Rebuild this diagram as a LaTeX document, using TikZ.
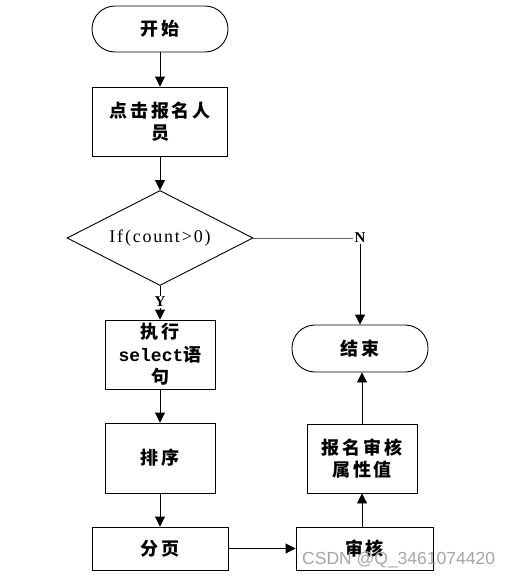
\documentclass[tikz,border=0pt]{standalone}
\usepackage{fontspec}
\newfontfamily\cjk[LetterSpace=15]{Noto Sans CJK SC}
\newfontfamily\lat{Liberation Serif}
\newfontfamily\mono{Liberation Mono}
\newfontfamily\wm{Liberation Sans}
\usetikzlibrary{shapes.geometric,arrows.meta}
\begin{document}
\begin{tikzpicture}[x=1pt,y=-1pt,
  box/.style={draw,line width=0.9pt,inner sep=0pt,align=center,font=\fontsize{18}{22.5}\cjk\bfseries},
  term/.style={box,rounded corners=23pt},
  arr/.style={line width=0.9pt,-{Triangle[length=10pt,width=10pt]}},
  ln/.style={line width=0.9pt},
  lab/.style={inner sep=1pt,font=\fontsize{15}{15}\lat\bfseries}]
\useasboundingbox (0,0) rectangle (513,578);
\node[term,minimum width=136pt,minimum height=46pt] (start) at (160,29) {开始};
\node[box,minimum width=135pt,minimum height=69pt] (n1) at (160,121.5) {点击报名人\\员};
\node[draw,line width=0.9pt,diamond,aspect=1.96,inner sep=0pt,minimum width=186pt,minimum height=95pt,font=\fontsize{18}{18}\lat\addfontfeatures{LetterSpace=10}] (dia) at (160,238) {If(count>0)};
\node[lab] (Y) at (160,302) {Y};
\node[lab] (N) at (360,238) {N};
\node[box,minimum width=110pt,minimum height=69pt] (n2) at (160,354.5) {执行\\{\mono\fontsize{18}{22.5}\selectfont\bfseries select}语\\句};
\node[box,minimum width=110pt,minimum height=70pt] (n3) at (160,458) {排序};
\node[box,minimum width=136pt,minimum height=43pt] (n4) at (160,548.5) {分页};
\node[box,minimum width=137pt,minimum height=43pt] (n5) at (364.5,548.5) {审核};
\node[box,minimum width=110pt,minimum height=69pt] (n6) at (362,458.5) {报名审核\\属性值};
\node[term,minimum width=136pt,minimum height=47pt] (end) at (360,348.5) {结束};
\draw[arr] (start.south) -- (n1.north);
\draw[arr] (n1.south) -- (dia.north);
\draw[ln] (dia.south) -- (Y.north);
\draw[arr] (Y.south) -- (n2.north);
\draw[ln,black!60] (dia.east) -- (N.west);
\draw[arr] (N.south) -- (end.north);
\draw[arr] (n2.south) -- (n3.north);
\draw[arr] (n3.south) -- (n4.north);
\draw[arr] (n4.east) -- (n5.west);
\draw[arr] (n6.south |- n5.north) -- (n6.south);
\draw[arr] (n6.north) -- (n6.north |- end.south);
\node[font=\fontsize{17.5}{17.5}\wm,text=black!35,anchor=west,inner sep=0pt] (wmk) at (302,560) {CSDN @Q\_3461074420};
\end{tikzpicture}
\end{document}
